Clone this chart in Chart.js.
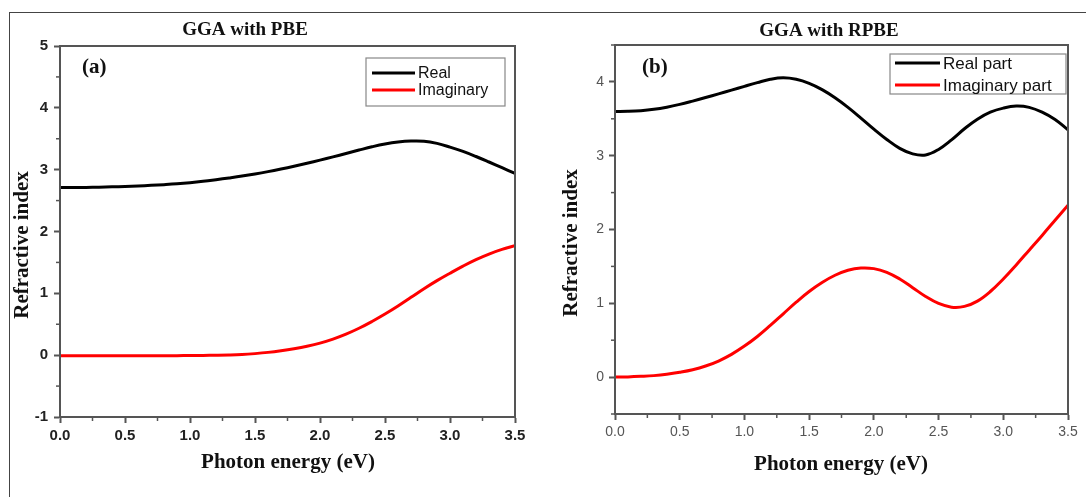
<!DOCTYPE html>
<html><head><meta charset="utf-8">
<script src="https://cdn.jsdelivr.net/npm/chart.js@4"></script>
<style>
html,body{margin:0;padding:0;background:#fff;}
#wrap{position:relative;width:1086px;height:497px;overflow:hidden;background:#fff;}
#frame{position:absolute;left:9px;top:12px;width:1200px;height:600px;border-top:1.5px solid #444;border-left:1.5px solid #444;}
#ca{position:absolute;left:0;top:0;}
#cb{position:absolute;left:545px;top:0;}
</style></head><body>
<div id="wrap"><div id="frame"></div>
<canvas id="ca" width="545" height="497"></canvas>
<canvas id="cb" width="541" height="497"></canvas>
</div>
<script>
// ---- data ----
const energy = [0.0,0.1,0.2,0.3,0.4,0.5,0.6,0.7,0.8,0.9,1.0,1.1,1.2,1.3,1.4,1.5,1.6,1.7,1.8,1.9,2.0,2.1,2.2,2.3,2.4,2.5,2.6,2.7,2.8,2.9,3.0,3.1,3.2,3.3,3.4,3.5];
const pbeReal = [2.710,2.711,2.713,2.717,2.722,2.728,2.736,2.746,2.758,2.772,2.790,2.812,2.838,2.866,2.896,2.930,2.968,3.010,3.055,3.103,3.154,3.207,3.262,3.317,3.370,3.415,3.447,3.463,3.460,3.425,3.365,3.295,3.213,3.124,3.032,2.940];
const pbeImag = [-0.01,-0.01,-0.01,-0.01,-0.01,-0.01,-0.01,-0.01,-0.01,-0.008,-0.006,-0.004,-0.002,0.002,0.010,0.025,0.045,0.072,0.105,0.145,0.195,0.260,0.340,0.435,0.545,0.665,0.795,0.935,1.075,1.205,1.325,1.440,1.545,1.635,1.710,1.770];
const rpbeReal = [3.600,3.602,3.610,3.628,3.657,3.695,3.740,3.788,3.838,3.888,3.940,3.990,4.035,4.055,4.035,3.980,3.895,3.785,3.655,3.510,3.360,3.220,3.100,3.025,3.010,3.085,3.215,3.365,3.495,3.590,3.645,3.672,3.655,3.590,3.490,3.350];
const rpbeImag = [0.000,0.003,0.010,0.020,0.038,0.065,0.100,0.150,0.218,0.308,0.420,0.550,0.700,0.858,1.015,1.160,1.282,1.380,1.448,1.478,1.470,1.420,1.330,1.212,1.092,0.998,0.948,0.958,1.030,1.160,1.330,1.520,1.720,1.920,2.125,2.330];
const pbeLabels = ["Real","Imaginary"];
const rpbeLabels = ["Real part","Imaginary part"];
const xTickValues = [0.0,0.5,1.0,1.5,2.0,2.5,3.0,3.5];

const SERIF = '"Liberation Serif","Times New Roman",serif';
const SANS = '"Liberation Sans",Arial,sans-serif';

const decor = {
  id:'decor',
  afterDraw(chart){
    const o = chart.options.plugins.decor;
    const ctx = chart.ctx, a = chart.chartArea;
    const xs = chart.scales.x, ys = chart.scales.y;
    ctx.save();
    ctx.strokeStyle = '#555'; ctx.lineWidth = 2;
    ctx.strokeRect(a.left, a.top, a.right - a.left, a.bottom - a.top);
    ctx.lineWidth = 1.5; ctx.strokeStyle = '#555';
    o.minorX.forEach(v=>{const px = xs.getPixelForValue(v); ctx.beginPath(); ctx.moveTo(px, a.bottom); ctx.lineTo(px, a.bottom+4); ctx.stroke();});
    o.minorY.forEach(v=>{const py = ys.getPixelForValue(v); ctx.beginPath(); ctx.moveTo(a.left, py); ctx.lineTo(a.left-4, py); ctx.stroke();});
    ctx.fillStyle = '#111';
    ctx.textAlign = 'center'; ctx.textBaseline = 'middle';
    ctx.font = 'bold 19px ' + SERIF;
    ctx.fillText(o.title, o.titleX, o.titleY);
    ctx.textAlign = 'left';
    ctx.font = 'bold 21px ' + SERIF;
    ctx.fillText(o.tag, o.tagX, o.tagY);
    ctx.textAlign = 'center';
    ctx.font = 'bold 21px ' + SERIF;
    ctx.fillText(o.xTitle, o.xTitleX, o.xTitleY);
    ctx.save();
    ctx.translate(o.yTitleX, o.yTitleY); ctx.rotate(-Math.PI/2);
    ctx.fillText(o.yTitle, 0, 0);
    ctx.restore();
    const L = o.legend;
    ctx.fillStyle = '#fff'; ctx.fillRect(L.x, L.y, L.w, L.h);
    ctx.strokeStyle = '#888'; ctx.lineWidth = 1.2;
    ctx.strokeRect(L.x, L.y, L.w, L.h);
    chart.data.datasets.forEach((ds, i)=>{
      const yy = L.rows[i];
      ctx.strokeStyle = ds.borderColor; ctx.lineWidth = 3;
      ctx.beginPath(); ctx.moveTo(L.lx0, yy); ctx.lineTo(L.lx1, yy); ctx.stroke();
      ctx.fillStyle = '#111'; ctx.textAlign = 'left'; ctx.textBaseline = 'middle';
      ctx.font = L.font + 'px ' + SANS;
      ctx.fillText(ds.label, L.tx, yy + 1);
    });
    ctx.restore();
  }
};

function makeChart(el, c){
  const pts = arr => energy.map((e,i)=>({x:e, y:arr[i]}));
  return new Chart(el, {
    type:'line',
    data:{datasets:[
      {label:c.labels[0], data:pts(c.real), borderColor:'#000000', borderWidth:3, pointRadius:0, tension:0.4, fill:false},
      {label:c.labels[1], data:pts(c.imag), borderColor:'#ff0000', borderWidth:3, pointRadius:0, tension:0.4, fill:false}
    ]},
    options:{
      responsive:false, animation:false, devicePixelRatio:1,
      layout:{padding:{left:0, top:c.top, right:c.right, bottom:0}},
      plugins:{legend:{display:false}, title:{display:false}, tooltip:{enabled:false}, decor:c.decor},
      events:[],
      scales:{
        x:{type:'linear', min:0, max:3.5,
           afterBuildTicks: s=>{ s.ticks = xTickValues.map(v=>({value:v})); },
           ticks:{callback:v=>Number(v).toFixed(1), font:c.tickFont, color:c.tickColor, padding:c.xPad, maxRotation:0, autoSkip:false},
           grid:{display:true, drawOnChartArea:false, drawTicks:true, tickLength:6, tickWidth:2, tickColor:'#555'},
           border:{display:true, color:'#555', width:2},
           afterFit: s=>{ s.height = c.xH; }},
        y:{type:'linear', min:c.yMin, max:c.yMax,
           afterBuildTicks: s=>{ s.ticks = c.yTicks.map(v=>({value:v})); },
           ticks:{callback:v=>String(v), font:c.tickFont, color:c.tickColor, padding:c.yPad, autoSkip:false},
           grid:{display:true, drawOnChartArea:false, drawTicks:true, tickLength:6, tickWidth:2, tickColor:'#555'},
           border:{display:true, color:'#555', width:2},
           afterFit: s=>{ s.width = c.yW; }}
      }
    },
    plugins:[decor]
  });
}

makeChart(document.getElementById('ca'), {
  labels:pbeLabels, real:pbeReal, imag:pbeImag,
  top:46, right:30, xH:80, yW:60, yMin:-1, yMax:5, yTicks:[-1,0,1,2,3,4,5],
  tickFont:{family:SANS, size:15, weight:'bold'}, tickColor:'#222', xPad:4, yPad:6,
  decor:{
    title:'GGA with PBE', titleX:245, titleY:30,
    tag:'(a)', tagX:82, tagY:68,
    xTitle:'Photon energy (eV)', xTitleX:288, xTitleY:463,
    yTitle:'Refractive index', yTitleX:23, yTitleY:245,
    minorX:[0.25,0.75,1.25,1.75,2.25,2.75,3.25],
    minorY:[-0.5,0.5,1.5,2.5,3.5,4.5],
    legend:{x:366, y:58, w:139, h:48, rows:[73,90], lx0:372, lx1:415, tx:418, font:16}
  }
});

makeChart(document.getElementById('cb'), {
  labels:rpbeLabels, real:rpbeReal, imag:rpbeImag,
  top:45, right:18, xH:83, yW:70, yMin:-0.5, yMax:4.5, yTicks:[0,1,2,3,4],
  tickFont:{family:SANS, size:14, weight:'normal'}, tickColor:'#555', xPad:4, yPad:5,
  decor:{
    title:'GGA with RPBE', titleX:284, titleY:31,
    tag:'(b)', tagX:97, tagY:68,
    xTitle:'Photon energy (eV)', xTitleX:296, xTitleY:465,
    yTitle:'Refractive index', yTitleX:27, yTitleY:243,
    minorX:[0.25,0.75,1.25,1.75,2.25,2.75,3.25],
    minorY:[-0.5,0.5,1.5,2.5,3.5,4.5],
    legend:{x:345, y:54, w:176, h:40, rows:[63,85], lx0:350, lx1:395, tx:398, font:17}
  }
});
</script>
</body></html>
